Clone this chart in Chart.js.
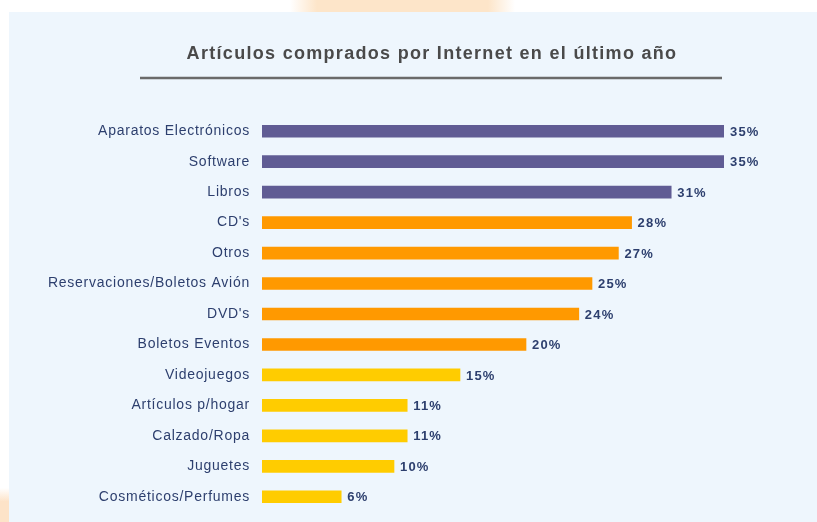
<!DOCTYPE html>
<html>
<head>
<meta charset="utf-8">
<script src="https://cdn.jsdelivr.net/npm/chart.js@4.4.1/dist/chart.umd.min.js"></script>
<style>
  html, body { margin: 0; padding: 0; background: #ffffff; }
  body { width: 817px; height: 522px; position: relative; overflow: hidden; }
  .glow-top {
    position: absolute; left: 290px; top: 0; width: 225px; height: 14px;
    background: linear-gradient(90deg, rgba(253,228,196,0) 0%, #fde5c9 12%, #fde5c9 88%, rgba(253,228,196,0) 100%);
  }
  .glow-left {
    position: absolute; left: 0; top: 488px; width: 10px; height: 34px;
    background: linear-gradient(180deg, rgba(253,227,200,0) 0%, #fde3c8 40%);
  }
  .panel {
    position: absolute; left: 9px; top: 12px; width: 808px; height: 510px;
    background: #eef6fd;
  }
  canvas { position: absolute; left: 0; top: 0; }
</style>
</head>
<body>
<div class="glow-top"></div>
<div class="glow-left"></div>
<div class="panel">
  <canvas id="chart" width="808" height="510"></canvas>
</div>
<script>
// Datos
const categories = [
  'Aparatos Electrónicos', 'Software', 'Libros', "CD's", 'Otros',
  'Reservaciones/Boletos Avión', "DVD's", 'Boletos Eventos', 'Videojuegos',
  'Artículos p/hogar', 'Calzado/Ropa', 'Juguetes', 'Cosméticos/Perfumes'
];
const percentages = [35, 35, 31, 28, 27, 25, 24, 20, 15, 11, 11, 10, 6];
const groups = ['top', 'top', 'top', 'mid', 'mid', 'mid', 'mid', 'mid',
                'low', 'low', 'low', 'low', 'low'];
const chartTitle = 'Artículos comprados por Internet en el último año';

const groupColors = { top: '#605c94', mid: '#ff9900', low: '#ffcc00' };
const labelColor = '#2d3f6e';
const fontFamily = '"Liberation Sans", Arial, sans-serif';

// Espaciado de letras para las etiquetas del eje
const axisSpacing = {
  id: 'axisSpacing',
  beforeDraw(chart) { chart.ctx.letterSpacing = '0.75px'; },
  beforeDatasetsDraw(chart) { chart.ctx.letterSpacing = '0px'; }
};

// Etiquetas de valor al final de cada barra
const valueLabels = {
  id: 'valueLabels',
  afterDatasetsDraw(chart) {
    const ctx = chart.ctx;
    const meta = chart.getDatasetMeta(0);
    ctx.save();
    ctx.font = 'bold 13px ' + fontFamily;
    ctx.letterSpacing = '1.2px';
    ctx.fillStyle = labelColor;
    ctx.textAlign = 'left';
    ctx.textBaseline = 'middle';
    meta.data.forEach((bar, i) => {
      ctx.fillText(percentages[i] + '%', bar.x + 6, bar.y + 1);
    });
    ctx.restore();
  }
};

// Título y línea bajo el título
const titleBlock = {
  id: 'titleBlock',
  afterDraw(chart) {
    const ctx = chart.ctx;
    ctx.save();
    ctx.font = 'bold 18px ' + fontFamily;
    ctx.letterSpacing = '1.3px';
    ctx.fillStyle = '#4a4a4a';
    ctx.textAlign = 'center';
    ctx.textBaseline = 'middle';
    ctx.fillText(chartTitle, 423, 42);
    ctx.strokeStyle = '#6a6a6a';
    ctx.lineWidth = 2.5;
    ctx.beginPath();
    ctx.moveTo(131, 66);
    ctx.lineTo(713, 66);
    ctx.stroke();
    ctx.restore();
  }
};

new Chart(document.getElementById('chart'), {
  type: 'bar',
  data: {
    labels: categories,
    datasets: [{
      data: percentages,
      backgroundColor: groups.map(g => groupColors[g]),
      borderWidth: 0,
      barThickness: 12
    }]
  },
  options: {
    indexAxis: 'y',
    responsive: false,
    animation: false,
    layout: { padding: { top: 104, right: 93, bottom: 10, left: 0 } },
    plugins: {
      legend: { display: false },
      tooltip: { enabled: false },
      title: { display: false }
    },
    scales: {
      x: {
        display: false,
        min: 0,
        max: 35
      },
      y: {
        afterFit(scale) {
          scale.width = 253;
          scale.paddingTop = 0;
          scale.paddingBottom = 0;
        },
        grid: { display: false, drawTicks: false },
        border: { display: false },
        ticks: {
          padding: 12,
          color: labelColor,
          font: { family: fontFamily, size: 14 }
        }
      }
    }
  },
  plugins: [axisSpacing, valueLabels, titleBlock]
});
</script>
</body>
</html>
